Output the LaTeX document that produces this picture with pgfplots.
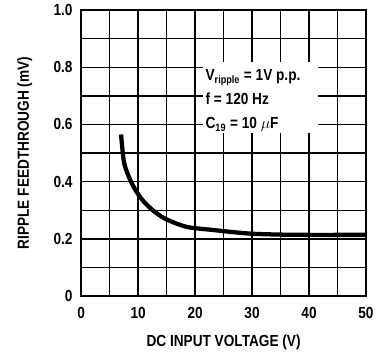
\documentclass[border=0pt]{standalone}
\usepackage{fontspec}
\setmainfont{Liberation Sans}[FakeStretch=0.85]
\usepackage{pgfplots}
\pgfplotsset{compat=1.18}
\begin{document}
\begin{tikzpicture}
\begin{axis}[
  scale only axis,
  width=213pt, height=214pt,
  xmin=0, xmax=50, ymin=0, ymax=1.0,
  xtick={0,10,20,30,40,50},
  minor xtick={5,15,25,35,45},
  ytick={0,0.2,0.4,0.6,0.8,1.0},
  yticklabels={0,0.2,0.4,0.6,0.8,1.0},
  minor ytick={0.1,0.3,0.5,0.7,0.9},
  grid=both,
  major grid style={black, line width=1.1pt},
  minor grid style={black, line width=1.1pt},
  major tick length=0pt, minor tick length=0pt,
  axis line style={black, line width=1.5pt},
  /pgf/number format/assume math mode=true,
  tick label style={font=\bfseries\fontsize{12}{14}\selectfont},
  xticklabel style={yshift=-5pt},
  yticklabel style={xshift=-3pt},
  xlabel={\bfseries DC INPUT VOLTAGE (V)},
  ylabel={\bfseries RIPPLE FEEDTHROUGH (mV)},
  label style={font=\bfseries\fontsize{12}{14}\selectfont},
  xlabel style={yshift=-5pt},
  ylabel style={yshift=9pt},
  clip=false,
]
\fill[white] (axis cs:21.4,0.57) rectangle (axis cs:41.6,0.82);
\node[anchor=base west, font=\bfseries\fontsize{12}{14}\selectfont, inner sep=0pt] at (axis cs:21.8,0.752) {V\textsubscript{ripple} = 1V p.p.};
\node[anchor=base west, font=\bfseries\fontsize{12}{14}\selectfont, inner sep=0pt] at (axis cs:21.8,0.669) {f = 120 Hz};
\node[anchor=base west, font=\bfseries\fontsize{12}{14}\selectfont, inner sep=0pt] at (axis cs:21.8,0.585) {C\textsubscript{19} = 10 $\mu$F};
\addplot[black, line width=3.2pt, smooth, line cap=butt] coordinates {
 (7.0,0.565) (7.3,0.50) (7.6,0.46) (8.3,0.42) (9.0,0.39) (9.7,0.365) (11,0.33)
 (12.7,0.298) (14.5,0.273) (16.8,0.253) (19,0.24) (22.7,0.232) (26,0.225)
 (30,0.218) (35,0.215) (40,0.214) (45,0.214) (50,0.214)
};
\end{axis}
\pgfresetboundingbox
\path[use as bounding box] ([xshift=-60.75pt,yshift=-45.75pt]current axis.south west) rectangle ([xshift=10.5pt,yshift=7.5pt]current axis.north east);
\end{tikzpicture}
\end{document}
